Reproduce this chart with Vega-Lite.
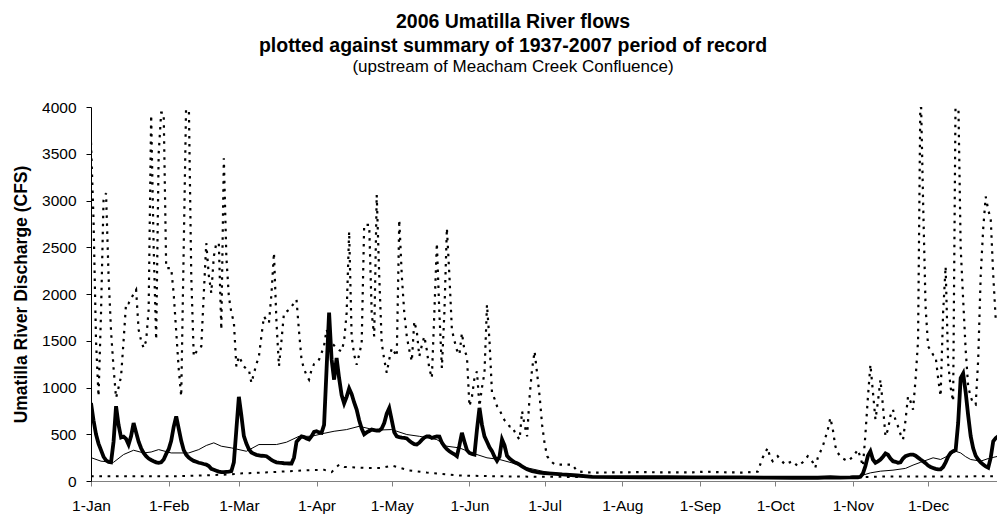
{
  "$schema": "https://vega.github.io/schema/vega-lite/v6.json",
  "autosize": {"type": "none"},
  "width": 906,
  "height": 374,
  "padding": {"left": 91, "top": 107, "right": 0, "bottom": 33},
  "background": "white",
  "title": {
    "text": ["2006 Umatilla River flows", "plotted against summary of 1937-2007 period of record"],
    "subtitle": "(upstream of Meacham Creek Confluence)",
    "anchor": "middle",
    "dx": -31,
    "offset": 24,
    "font": "Liberation Sans",
    "fontSize": 19.5,
    "fontWeight": "bold",
    "lineHeight": 24,
    "color": "black",
    "subtitleFont": "Liberation Sans",
    "subtitleFontSize": 17,
    "subtitleColor": "black",
    "subtitlePadding": 3
  },
  "config": {
    "view": {"stroke": null},
    "axis": {"labelFont": "Liberation Sans", "titleFont": "Liberation Sans", "labelColor": "black", "titleColor": "black", "grid": false}
  },
  "datasets": {
    "mx": [
      {"d":"2006-01-01","v":3620},{"d":"2006-01-02","v":2800},{"d":"2006-01-03","v":1500},{"d":"2006-01-04","v":906},{"d":"2006-01-05","v":1800},{"d":"2006-01-06","v":3000},{"d":"2006-01-07","v":3080},{"d":"2006-01-08","v":2200},{"d":"2006-01-09","v":1600},{"d":"2006-01-10","v":1209},{"d":"2006-01-11","v":889},{"d":"2006-01-12","v":1000},{"d":"2006-01-13","v":1119},{"d":"2006-01-14","v":1500},{"d":"2006-01-15","v":1903},{"d":"2006-01-16","v":1900},{"d":"2006-01-17","v":1950},{"d":"2006-01-18","v":2000},{"d":"2006-01-19","v":2045},{"d":"2006-01-20","v":1618},{"d":"2006-01-21","v":1500},{"d":"2006-01-22","v":1422},{"d":"2006-01-23","v":1500},{"d":"2006-01-24","v":1832},{"d":"2006-01-25","v":3914},{"d":"2006-01-26","v":2500},{"d":"2006-01-27","v":1511},{"d":"2006-01-28","v":3500},{"d":"2006-01-29","v":3940},{"d":"2006-01-30","v":3940},{"d":"2006-01-31","v":2277},
      {"d":"2006-02-01","v":2277},{"d":"2006-02-02","v":2277},{"d":"2006-02-03","v":2000},{"d":"2006-02-04","v":1600},{"d":"2006-02-05","v":1200},{"d":"2006-02-06","v":906},{"d":"2006-02-07","v":2500},{"d":"2006-02-08","v":4100},{"d":"2006-02-09","v":4100},{"d":"2006-02-10","v":2200},{"d":"2006-02-11","v":1333},{"d":"2006-02-12","v":1380},{"d":"2006-02-13","v":1420},{"d":"2006-02-14","v":1440},{"d":"2006-02-15","v":2000},{"d":"2006-02-16","v":2544},{"d":"2006-02-17","v":2200},{"d":"2006-02-18","v":2010},{"d":"2006-02-19","v":2400},{"d":"2006-02-20","v":2544},{"d":"2006-02-21","v":2544},{"d":"2006-02-22","v":1618},{"d":"2006-02-23","v":3452},{"d":"2006-02-24","v":2400},{"d":"2006-02-25","v":1974},{"d":"2006-02-26","v":1800},{"d":"2006-02-27","v":1700},{"d":"2006-02-28","v":1226},
      {"d":"2006-03-01","v":1333},{"d":"2006-03-02","v":1280},{"d":"2006-03-03","v":1226},{"d":"2006-03-04","v":1200},{"d":"2006-03-05","v":1191},{"d":"2006-03-06","v":1049},{"d":"2006-03-07","v":1150},{"d":"2006-03-08","v":1250},{"d":"2006-03-09","v":1333},{"d":"2006-03-10","v":1550},{"d":"2006-03-11","v":1760},{"d":"2006-03-12","v":1720},{"d":"2006-03-13","v":1690},{"d":"2006-03-14","v":2000},{"d":"2006-03-15","v":2440},{"d":"2006-03-16","v":1700},{"d":"2006-03-17","v":1226},{"d":"2006-03-18","v":1500},{"d":"2006-03-19","v":1796},{"d":"2006-03-20","v":1810},{"d":"2006-03-21","v":1830},{"d":"2006-03-22","v":1867},{"d":"2006-03-23","v":1900},{"d":"2006-03-24","v":1940},{"d":"2006-03-25","v":1600},{"d":"2006-03-26","v":1298},{"d":"2006-03-27","v":1200},{"d":"2006-03-28","v":1130},{"d":"2006-03-29","v":1084},{"d":"2006-03-30","v":1191},{"d":"2006-03-31","v":1250},
      {"d":"2006-04-01","v":1262},{"d":"2006-04-02","v":1300},{"d":"2006-04-03","v":1369},{"d":"2006-04-04","v":1450},{"d":"2006-04-05","v":1618},{"d":"2006-04-06","v":1550},{"d":"2006-04-07","v":1476},{"d":"2006-04-08","v":1450},{"d":"2006-04-09","v":1420},{"d":"2006-04-10","v":1400},{"d":"2006-04-11","v":1386},{"d":"2006-04-12","v":1500},{"d":"2006-04-13","v":1796},{"d":"2006-04-14","v":2668},{"d":"2006-04-15","v":1547},{"d":"2006-04-16","v":1350},{"d":"2006-04-17","v":1244},{"d":"2006-04-18","v":1350},{"d":"2006-04-19","v":1476},{"d":"2006-04-20","v":2740},{"d":"2006-04-21","v":2740},{"d":"2006-04-22","v":2740},{"d":"2006-04-23","v":1796},{"d":"2006-04-24","v":1547},{"d":"2006-04-25","v":3060},{"d":"2006-04-26","v":2200},{"d":"2006-04-27","v":1476},{"d":"2006-04-28","v":1300},{"d":"2006-04-29","v":1156},{"d":"2006-04-30","v":1300},
      {"d":"2006-05-01","v":1422},{"d":"2006-05-02","v":1380},{"d":"2006-05-03","v":1333},{"d":"2006-05-04","v":2793},{"d":"2006-05-05","v":2200},{"d":"2006-05-06","v":1800},{"d":"2006-05-07","v":1547},{"d":"2006-05-08","v":1400},{"d":"2006-05-09","v":1280},{"d":"2006-05-10","v":1707},{"d":"2006-05-11","v":1600},{"d":"2006-05-12","v":1333},{"d":"2006-05-13","v":1450},{"d":"2006-05-14","v":1547},{"d":"2006-05-15","v":1400},{"d":"2006-05-16","v":1200},{"d":"2006-05-17","v":1102},{"d":"2006-05-18","v":1800},{"d":"2006-05-19","v":2544},{"d":"2006-05-20","v":1800},{"d":"2006-05-21","v":1209},{"d":"2006-05-22","v":1800},{"d":"2006-05-23","v":2704},{"d":"2006-05-24","v":2200},{"d":"2006-05-25","v":1618},{"d":"2006-05-26","v":1500},{"d":"2006-05-27","v":1400},{"d":"2006-05-28","v":1351},{"d":"2006-05-29","v":1583},{"d":"2006-05-30","v":1400},{"d":"2006-05-31","v":1333},
      {"d":"2006-06-01","v":799},{"d":"2006-06-02","v":900},{"d":"2006-06-03","v":1100},{"d":"2006-06-04","v":1173},{"d":"2006-06-05","v":799},{"d":"2006-06-06","v":1000},{"d":"2006-06-07","v":1156},{"d":"2006-06-08","v":1885},{"d":"2006-06-09","v":1500},{"d":"2006-06-10","v":942},{"d":"2006-06-11","v":880},{"d":"2006-06-12","v":800},{"d":"2006-06-13","v":764},{"d":"2006-06-14","v":700},{"d":"2006-06-15","v":650},{"d":"2006-06-16","v":620},{"d":"2006-06-17","v":585},{"d":"2006-06-18","v":585},{"d":"2006-06-19","v":530},{"d":"2006-06-20","v":480},{"d":"2006-06-21","v":443},{"d":"2006-06-22","v":746},{"d":"2006-06-23","v":600},{"d":"2006-06-24","v":478},{"d":"2006-06-25","v":900},{"d":"2006-06-26","v":1200},{"d":"2006-06-27","v":1386},{"d":"2006-06-28","v":1150},{"d":"2006-06-29","v":906},{"d":"2006-06-30","v":600},
      {"d":"2006-07-01","v":400},{"d":"2006-07-02","v":265},{"d":"2006-07-03","v":230},{"d":"2006-07-04","v":200},{"d":"2006-07-05","v":180},{"d":"2006-07-06","v":176},{"d":"2006-07-08","v":176},{"d":"2006-07-10","v":176},{"d":"2006-07-12","v":176},{"d":"2006-07-13","v":140},{"d":"2006-07-14","v":105},{"d":"2006-07-15","v":100},{"d":"2006-07-17","v":95},{"d":"2006-07-20","v":90},{"d":"2006-07-30","v":92},
      {"d":"2006-08-09","v":95},{"d":"2006-08-19","v":92},{"d":"2006-08-29","v":92},{"d":"2006-09-03","v":100},{"d":"2006-09-08","v":95},{"d":"2006-09-13","v":92},{"d":"2006-09-18","v":90},{"d":"2006-09-24","v":100},{"d":"2006-09-26","v":250},{"d":"2006-09-28","v":354},{"d":"2006-09-29","v":250},{"d":"2006-09-30","v":212},
      {"d":"2006-10-01","v":240},{"d":"2006-10-02","v":265},{"d":"2006-10-03","v":230},{"d":"2006-10-05","v":176},{"d":"2006-10-06","v":190},{"d":"2006-10-08","v":212},{"d":"2006-10-10","v":158},{"d":"2006-10-12","v":200},{"d":"2006-10-14","v":265},{"d":"2006-10-16","v":200},{"d":"2006-10-17","v":141},{"d":"2006-10-18","v":250},{"d":"2006-10-20","v":372},{"d":"2006-10-22","v":550},{"d":"2006-10-23","v":675},{"d":"2006-10-24","v":550},{"d":"2006-10-25","v":372},{"d":"2006-10-26","v":300},{"d":"2006-10-27","v":265},{"d":"2006-10-28","v":240},{"d":"2006-10-30","v":212},
      {"d":"2006-11-01","v":260},{"d":"2006-11-03","v":336},{"d":"2006-11-04","v":250},{"d":"2006-11-05","v":158},{"d":"2006-11-06","v":500},{"d":"2006-11-07","v":900},{"d":"2006-11-08","v":1244},{"d":"2006-11-09","v":950},{"d":"2006-11-10","v":657},{"d":"2006-11-11","v":850},{"d":"2006-11-12","v":1084},{"d":"2006-11-13","v":800},{"d":"2006-11-14","v":478},{"d":"2006-11-15","v":550},{"d":"2006-11-16","v":700},{"d":"2006-11-17","v":764},{"d":"2006-11-18","v":650},{"d":"2006-11-19","v":585},{"d":"2006-11-20","v":500},{"d":"2006-11-21","v":443},{"d":"2006-11-22","v":650},{"d":"2006-11-23","v":906},{"d":"2006-11-24","v":850},{"d":"2006-11-25","v":764},{"d":"2006-11-26","v":1084},{"d":"2006-11-27","v":1500},{"d":"2006-11-28","v":4300},{"d":"2006-11-29","v":3000},{"d":"2006-11-30","v":1867},
      {"d":"2006-12-01","v":1440},{"d":"2006-12-02","v":1400},{"d":"2006-12-03","v":1350},{"d":"2006-12-04","v":1333},{"d":"2006-12-05","v":1100},{"d":"2006-12-06","v":906},{"d":"2006-12-07","v":1800},{"d":"2006-12-08","v":2294},{"d":"2006-12-09","v":1262},{"d":"2006-12-10","v":1000},{"d":"2006-12-11","v":852},{"d":"2006-12-12","v":4200},{"d":"2006-12-13","v":4200},{"d":"2006-12-14","v":2500},{"d":"2006-12-15","v":1938},{"d":"2006-12-16","v":1400},{"d":"2006-12-17","v":1013},{"d":"2006-12-18","v":900},{"d":"2006-12-19","v":830},{"d":"2006-12-20","v":817},{"d":"2006-12-21","v":1300},{"d":"2006-12-22","v":2200},{"d":"2006-12-23","v":2700},{"d":"2006-12-24","v":3042},{"d":"2006-12-25","v":2900},{"d":"2006-12-26","v":2800},{"d":"2006-12-27","v":2200},{"d":"2006-12-28","v":1725},{"d":"2006-12-29","v":1700}
    ],
    "mn": [
      {"d":"2006-01-01","v":50},{"d":"2006-01-21","v":50},{"d":"2006-02-04","v":50},{"d":"2006-02-15","v":60},{"d":"2006-02-25","v":70},{"d":"2006-03-01","v":80},{"d":"2006-03-11","v":90},{"d":"2006-03-21","v":105},{"d":"2006-03-29","v":115},{"d":"2006-04-04","v":120},{"d":"2006-04-07","v":95},{"d":"2006-04-10","v":176},{"d":"2006-04-12","v":150},{"d":"2006-04-20","v":140},{"d":"2006-04-27","v":140},{"d":"2006-05-01","v":165},{"d":"2006-05-08","v":112},{"d":"2006-05-15","v":90},{"d":"2006-05-28","v":59},{"d":"2006-06-10","v":51},{"d":"2006-06-30","v":45},{"d":"2006-07-31","v":42},{"d":"2006-09-30","v":40},{"d":"2006-10-31","v":40},{"d":"2006-11-15","v":48},{"d":"2006-12-29","v":50}
    ],
    "med": [
      {"d":"2006-01-01","v":250},{"d":"2006-01-05","v":212},{"d":"2006-01-10","v":200},{"d":"2006-01-14","v":283},{"d":"2006-01-18","v":329},{"d":"2006-01-22","v":300},{"d":"2006-01-25","v":310},{"d":"2006-01-28","v":336},{"d":"2006-02-02","v":300},{"d":"2006-02-09","v":300},{"d":"2006-02-13","v":336},{"d":"2006-02-16","v":380},{"d":"2006-02-19","v":408},{"d":"2006-02-22","v":372},{"d":"2006-02-26","v":354},{"d":"2006-03-04","v":318},{"d":"2006-03-09","v":390},{"d":"2006-03-16","v":390},{"d":"2006-03-20","v":415},{"d":"2006-03-25","v":478},{"d":"2006-03-30","v":478},{"d":"2006-04-04","v":510},{"d":"2006-04-08","v":532},{"d":"2006-04-13","v":550},{"d":"2006-04-18","v":585},{"d":"2006-04-22","v":560},{"d":"2006-04-26","v":545},{"d":"2006-05-01","v":550},{"d":"2006-05-07","v":497},{"d":"2006-05-12","v":478},{"d":"2006-05-19","v":443},{"d":"2006-05-23","v":372},{"d":"2006-05-28","v":354},{"d":"2006-06-02","v":300},{"d":"2006-06-08","v":248},{"d":"2006-06-13","v":230},{"d":"2006-06-18","v":194},{"d":"2006-06-24","v":141},{"d":"2006-07-02","v":94},{"d":"2006-07-10","v":69},{"d":"2006-07-20","v":50},{"d":"2006-08-04","v":45},{"d":"2006-08-29","v":42},{"d":"2006-09-28","v":40},{"d":"2006-10-28","v":40},{"d":"2006-11-02","v":45},{"d":"2006-11-04","v":55},{"d":"2006-11-08","v":87},{"d":"2006-11-12","v":105},{"d":"2006-11-17","v":116},{"d":"2006-11-22","v":135},{"d":"2006-11-25","v":170},{"d":"2006-11-28","v":200},{"d":"2006-12-03","v":248},{"d":"2006-12-06","v":230},{"d":"2006-12-09","v":270},{"d":"2006-12-12","v":318},{"d":"2006-12-14","v":300},{"d":"2006-12-16","v":260},{"d":"2006-12-18","v":230},{"d":"2006-12-22","v":212},{"d":"2006-12-25","v":240},{"d":"2006-12-29","v":265}
    ],
    "f": [
      {"d":"2006-01-01","v":835},{"d":"2006-01-02","v":650},{"d":"2006-01-03","v":500},{"d":"2006-01-04","v":400},{"d":"2006-01-05","v":330},{"d":"2006-01-06","v":260},{"d":"2006-01-07","v":220},{"d":"2006-01-08","v":205},{"d":"2006-01-09","v":200},{"d":"2006-01-10","v":420},{"d":"2006-01-11","v":800},{"d":"2006-01-12","v":600},{"d":"2006-01-13","v":465},{"d":"2006-01-14","v":475},{"d":"2006-01-15","v":450},{"d":"2006-01-16","v":390},{"d":"2006-01-17","v":480},{"d":"2006-01-18","v":620},{"d":"2006-01-19","v":520},{"d":"2006-01-20","v":420},{"d":"2006-01-21","v":350},{"d":"2006-01-22","v":300},{"d":"2006-01-23","v":265},{"d":"2006-01-24","v":240},{"d":"2006-01-25","v":225},{"d":"2006-01-26","v":212},{"d":"2006-01-27","v":200},{"d":"2006-01-28","v":195},{"d":"2006-01-29","v":200},{"d":"2006-01-30","v":230},{"d":"2006-01-31","v":290},
      {"d":"2006-02-01","v":340},{"d":"2006-02-02","v":430},{"d":"2006-02-03","v":580},{"d":"2006-02-04","v":690},{"d":"2006-02-05","v":560},{"d":"2006-02-06","v":430},{"d":"2006-02-07","v":330},{"d":"2006-02-08","v":280},{"d":"2006-02-09","v":250},{"d":"2006-02-10","v":230},{"d":"2006-02-11","v":215},{"d":"2006-02-12","v":205},{"d":"2006-02-13","v":195},{"d":"2006-02-14","v":190},{"d":"2006-02-15","v":182},{"d":"2006-02-16","v":176},{"d":"2006-02-17","v":160},{"d":"2006-02-18","v":130},{"d":"2006-02-19","v":120},{"d":"2006-02-20","v":110},{"d":"2006-02-21","v":100},{"d":"2006-02-22","v":95},{"d":"2006-02-23","v":95},{"d":"2006-02-24","v":98},{"d":"2006-02-25","v":100},{"d":"2006-02-26","v":105},{"d":"2006-02-27","v":200},{"d":"2006-02-28","v":550},
      {"d":"2006-03-01","v":900},{"d":"2006-03-02","v":700},{"d":"2006-03-03","v":480},{"d":"2006-03-04","v":400},{"d":"2006-03-05","v":340},{"d":"2006-03-06","v":305},{"d":"2006-03-07","v":290},{"d":"2006-03-08","v":280},{"d":"2006-03-09","v":275},{"d":"2006-03-10","v":270},{"d":"2006-03-11","v":268},{"d":"2006-03-12","v":265},{"d":"2006-03-13","v":245},{"d":"2006-03-14","v":225},{"d":"2006-03-15","v":210},{"d":"2006-03-16","v":200},{"d":"2006-03-17","v":196},{"d":"2006-03-18","v":193},{"d":"2006-03-19","v":190},{"d":"2006-03-20","v":188},{"d":"2006-03-21","v":187},{"d":"2006-03-22","v":187},{"d":"2006-03-23","v":250},{"d":"2006-03-24","v":420},{"d":"2006-03-25","v":450},{"d":"2006-03-26","v":478},{"d":"2006-03-27","v":470},{"d":"2006-03-28","v":455},{"d":"2006-03-29","v":445},{"d":"2006-03-30","v":480},{"d":"2006-03-31","v":525},
      {"d":"2006-04-01","v":532},{"d":"2006-04-02","v":520},{"d":"2006-04-03","v":515},{"d":"2006-04-04","v":600},{"d":"2006-04-05","v":1200},{"d":"2006-04-06","v":1800},{"d":"2006-04-07","v":1300},{"d":"2006-04-08","v":1084},{"d":"2006-04-09","v":1316},{"d":"2006-04-10","v":1100},{"d":"2006-04-11","v":920},{"d":"2006-04-12","v":830},{"d":"2006-04-13","v":900},{"d":"2006-04-14","v":990},{"d":"2006-04-15","v":930},{"d":"2006-04-16","v":840},{"d":"2006-04-17","v":764},{"d":"2006-04-18","v":650},{"d":"2006-04-19","v":560},{"d":"2006-04-20","v":500},{"d":"2006-04-21","v":520},{"d":"2006-04-22","v":535},{"d":"2006-04-23","v":550},{"d":"2006-04-24","v":545},{"d":"2006-04-25","v":540},{"d":"2006-04-26","v":540},{"d":"2006-04-27","v":560},{"d":"2006-04-28","v":620},{"d":"2006-04-29","v":720},{"d":"2006-04-30","v":780},
      {"d":"2006-05-01","v":650},{"d":"2006-05-02","v":520},{"d":"2006-05-03","v":478},{"d":"2006-05-04","v":470},{"d":"2006-05-05","v":465},{"d":"2006-05-06","v":462},{"d":"2006-05-07","v":455},{"d":"2006-05-08","v":430},{"d":"2006-05-09","v":410},{"d":"2006-05-10","v":395},{"d":"2006-05-11","v":390},{"d":"2006-05-12","v":410},{"d":"2006-05-13","v":440},{"d":"2006-05-14","v":465},{"d":"2006-05-15","v":478},{"d":"2006-05-16","v":478},{"d":"2006-05-17","v":460},{"d":"2006-05-18","v":470},{"d":"2006-05-19","v":478},{"d":"2006-05-20","v":475},{"d":"2006-05-21","v":410},{"d":"2006-05-22","v":370},{"d":"2006-05-23","v":340},{"d":"2006-05-24","v":318},{"d":"2006-05-25","v":300},{"d":"2006-05-26","v":285},{"d":"2006-05-27","v":265},{"d":"2006-05-28","v":380},{"d":"2006-05-29","v":515},{"d":"2006-05-30","v":420},{"d":"2006-05-31","v":330},
      {"d":"2006-06-01","v":300},{"d":"2006-06-02","v":290},{"d":"2006-06-03","v":283},{"d":"2006-06-04","v":550},{"d":"2006-06-05","v":782},{"d":"2006-06-06","v":600},{"d":"2006-06-07","v":478},{"d":"2006-06-08","v":420},{"d":"2006-06-09","v":360},{"d":"2006-06-10","v":320},{"d":"2006-06-11","v":260},{"d":"2006-06-12","v":215},{"d":"2006-06-13","v":260},{"d":"2006-06-14","v":443},{"d":"2006-06-15","v":380},{"d":"2006-06-16","v":270},{"d":"2006-06-17","v":240},{"d":"2006-06-18","v":220},{"d":"2006-06-19","v":200},{"d":"2006-06-20","v":190},{"d":"2006-06-21","v":175},{"d":"2006-06-22","v":155},{"d":"2006-06-23","v":140},{"d":"2006-06-24","v":125},{"d":"2006-06-25","v":115},{"d":"2006-06-26","v":105},{"d":"2006-06-27","v":100},{"d":"2006-06-28","v":95},{"d":"2006-06-29","v":90},{"d":"2006-06-30","v":87},
      {"d":"2006-07-01","v":85},{"d":"2006-07-04","v":80},{"d":"2006-07-08","v":70},{"d":"2006-07-14","v":59},{"d":"2006-07-20","v":45},{"d":"2006-07-30","v":42},{"d":"2006-08-09","v":40},{"d":"2006-08-19","v":40},{"d":"2006-08-29","v":38},{"d":"2006-09-08","v":38},{"d":"2006-09-18","v":38},{"d":"2006-09-28","v":36},{"d":"2006-10-08","v":35},{"d":"2006-10-18","v":35},{"d":"2006-10-23","v":40},{"d":"2006-10-27","v":37},{"d":"2006-10-31","v":38},
      {"d":"2006-11-01","v":40},{"d":"2006-11-02","v":40},{"d":"2006-11-03","v":40},{"d":"2006-11-04","v":45},{"d":"2006-11-05","v":80},{"d":"2006-11-06","v":160},{"d":"2006-11-07","v":270},{"d":"2006-11-08","v":318},{"d":"2006-11-09","v":230},{"d":"2006-11-10","v":195},{"d":"2006-11-11","v":210},{"d":"2006-11-12","v":230},{"d":"2006-11-13","v":260},{"d":"2006-11-14","v":294},{"d":"2006-11-15","v":280},{"d":"2006-11-16","v":240},{"d":"2006-11-17","v":212},{"d":"2006-11-18","v":205},{"d":"2006-11-19","v":195},{"d":"2006-11-20","v":200},{"d":"2006-11-21","v":240},{"d":"2006-11-22","v":265},{"d":"2006-11-23","v":275},{"d":"2006-11-24","v":283},{"d":"2006-11-25","v":283},{"d":"2006-11-26","v":270},{"d":"2006-11-27","v":250},{"d":"2006-11-28","v":230},{"d":"2006-11-29","v":212},{"d":"2006-11-30","v":190},
      {"d":"2006-12-01","v":165},{"d":"2006-12-02","v":150},{"d":"2006-12-03","v":140},{"d":"2006-12-04","v":130},{"d":"2006-12-05","v":125},{"d":"2006-12-06","v":125},{"d":"2006-12-07","v":150},{"d":"2006-12-08","v":200},{"d":"2006-12-09","v":260},{"d":"2006-12-10","v":300},{"d":"2006-12-11","v":318},{"d":"2006-12-12","v":330},{"d":"2006-12-13","v":620},{"d":"2006-12-14","v":1100},{"d":"2006-12-15","v":1150},{"d":"2006-12-16","v":950},{"d":"2006-12-17","v":700},{"d":"2006-12-18","v":480},{"d":"2006-12-19","v":350},{"d":"2006-12-20","v":270},{"d":"2006-12-21","v":230},{"d":"2006-12-22","v":200},{"d":"2006-12-23","v":175},{"d":"2006-12-24","v":155},{"d":"2006-12-25","v":141},{"d":"2006-12-26","v":250},{"d":"2006-12-27","v":425},{"d":"2006-12-28","v":460},{"d":"2006-12-29","v":480}
    ]
  },
  "encoding": {
    "x": {
      "field": "d",
      "type": "temporal",
      "scale": {"type": "utc", "domain": [1136073600000, 1167307200000]},
      "axis": {
        "title": null,
        "format": "%-d-%b",
        "tickCount": {"interval": "month", "step": 1},
        "domainColor": "#808080",
        "tickColor": "#808080",
        "tickSize": 5,
        "labelFontSize": 15.5,
        "labelPadding": 12,
        "labelFlush": false,
        "labelOverlap": false
      }
    },
    "y": {
      "field": "v",
      "type": "quantitative",
      "scale": {"domain": [0, 4000], "nice": false},
      "axis": {
        "title": "Umatilla River Discharge (CFS)",
        "values": [0, 500, 1000, 1500, 2000, 2500, 3000, 3500, 4000],
        "format": "d",
        "domainColor": "black",
        "tickColor": "black",
        "tickSize": 5,
        "labelFontSize": 15.5,
        "labelPadding": 10,
        "titleFontSize": 17.5,
        "titleFontWeight": "bold",
        "titleX": -61,
        "titleBaseline": "bottom"
      }
    }
  },
  "layer": [
    {"data": {"name": "mx"}, "mark": {"type": "line", "color": "black", "strokeWidth": 2.2, "strokeDash": [2.5, 5.5], "clip": true}},
    {"data": {"name": "mn"}, "mark": {"type": "line", "color": "black", "strokeWidth": 2, "strokeDash": [2.7, 5.6], "clip": true}},
    {"data": {"name": "med"}, "mark": {"type": "line", "color": "black", "strokeWidth": 1, "clip": true}},
    {"data": {"name": "f"}, "mark": {"type": "line", "color": "black", "strokeWidth": 3.8, "clip": true}}
  ]
}
